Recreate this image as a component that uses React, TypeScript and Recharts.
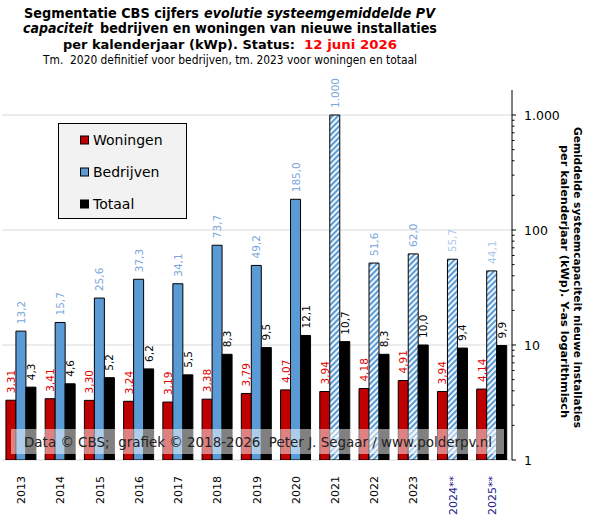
import React from "react"
import { BarChart, Bar, XAxis, YAxis, CartesianGrid, Cell, LabelList } from "recharts"

const years = ["2013", "2014", "2015", "2016", "2017", "2018", "2019", "2020", "2021", "2022", "2023", "2024**", "2025**"]
const woningen = [3.31, 3.41, 3.3, 3.24, 3.19, 3.38, 3.79, 4.07, 3.94, 4.18, 4.91, 3.94, 4.14]
const bedrijven = [13.2, 15.7, 25.6, 37.3, 34.1, 73.7, 49.2, 185.0, 1000, 51.6, 62.0, 55.7, 44.1]
const totaal = [4.3, 4.6, 5.2, 6.2, 5.5, 8.3, 9.5, 12.1, 10.7, 8.3, 10.0, 9.4, 9.9]
const majorTicks = [1, 10, 100, 1000]
const yTicks = [1, 2, 3, 4, 5, 6, 7, 8, 9, 10, 20, 30, 40, 50, 60, 70, 80, 90, 100, 200, 300, 400, 500, 600, 700, 800, 900, 1000]

const data = years.map((year, i) => ({ year, woningen: woningen[i], bedrijven: bedrijven[i], totaal: totaal[i] }))

const FONT = "Verdana, 'DejaVu Sans', sans-serif"
const RED = "#c00000"
const BLUE = "#5b9bd5"

// Dutch number format: decimal comma, dot thousands
const fmt = (v: number, d: number) => {
  if (v >= 1000) return v.toLocaleString("nl-NL")
  return v.toFixed(d).replace(".", ",")
}

function makeLabel(decimals: number, colorFor: (i: number) => string) {
  return (props: any) => {
    const { x, y, width, value, index } = props
    const cx = x + width / 2
    const top = y - 7
    return (
      <text
        x={cx}
        y={top}
        transform={`rotate(-90 ${cx} ${top})`}
        textAnchor="start"
        dominantBaseline="central"
        fontSize={10.5}
        fontFamily={FONT}
        fill={colorFor(index)}
      >
        {fmt(value, decimals)}
      </text>
    )
  }
}

function YearTick({ x, y, payload }: any) {
  const ty = y + 8
  const starred = payload.value.includes("*")
  return (
    <text
      x={x}
      y={ty}
      transform={`rotate(-90 ${x} ${ty})`}
      textAnchor="end"
      dominantBaseline="central"
      fontSize={11}
      fontFamily={FONT}
      fill={starred ? "#1c1c8c" : "#000"}
    >
      {payload.value}
    </text>
  )
}

function LogTick({ x, y, payload }: any) {
  const major = majorTicks.includes(payload.value)
  return (
    <g>
      <line x1={x} x2={x + (major ? 4 : 2.5)} y1={y} y2={y} stroke="#000" />
      {major && (
        <text x={x + 12} y={y} dominantBaseline="central" fontSize={12.5} fontFamily={FONT} fill="#000">
          {payload.value >= 1000 ? "1.000" : payload.value}
        </text>
      )}
    </g>
  )
}

const pre = { whiteSpace: "pre" as const }

export default function App() {
  return (
    <div style={{ position: "absolute", left: 0, top: 0, width: 589, height: 519, background: "#fff" }}>
      <svg width={0} height={0} style={{ position: "absolute" }}>
        <defs>
          <pattern id="hatch" width={4} height={4} patternUnits="userSpaceOnUse" patternTransform="rotate(45)">
            <rect width={4} height={4} fill="#fff" />
            <rect width={2.2} height={4} fill={BLUE} />
          </pattern>
        </defs>
      </svg>

      <BarChart
        width={589}
        height={519}
        data={data}
        margin={{ top: 90, right: 32, bottom: 9, left: 2 }}
        barCategoryGap="10%"
        barGap={0}
      >
        <CartesianGrid vertical={false} horizontalValues={majorTicks} stroke="#d9d9d9" />
        <XAxis dataKey="year" interval={0} height={50} axisLine={false} tickLine={false} tick={<YearTick />} />
        <YAxis
          orientation="right"
          scale="log"
          domain={[1, 1650]}
          allowDataOverflow
          ticks={yTicks}
          interval={0}
          width={45}
          tickSize={0}
          tickMargin={0}
          tickLine={false}
          axisLine={{ stroke: "#000" }}
          tick={<LogTick />}
        />
        <Bar dataKey="woningen" fill={RED} stroke="#000" strokeWidth={1} isAnimationActive={false}>
          <LabelList dataKey="woningen" content={makeLabel(2, () => "#e00000")} />
        </Bar>
        <Bar dataKey="bedrijven" fill={BLUE} stroke="#000" strokeWidth={1} isAnimationActive={false}>
          {data.map((_, i) => (
            <Cell key={i} fill={i >= 8 ? "url(#hatch)" : BLUE} />
          ))}
          <LabelList dataKey="bedrijven" content={makeLabel(1, (i) => (i >= 11 ? "#a9c6ee" : "#7aa6dc"))} />
        </Bar>
        <Bar dataKey="totaal" fill="#000" stroke="#000" strokeWidth={1} isAnimationActive={false}>
          <LabelList dataKey="totaal" content={makeLabel(1, () => "#000")} />
        </Bar>
      </BarChart>

      {/* overlay: titles, legend, watermark, axis title */}
      <svg width={589} height={519} style={{ position: "absolute", left: 0, top: 0, pointerEvents: "none" }} fontFamily={FONT}>
        <g fontSize={14.5} fontWeight="bold" fill="#000">
          <text x={24} y={17.5} textLength={175} lengthAdjust="spacingAndGlyphs">Segmentatie CBS cijfers</text>
          <text x={204} y={17.5} fontStyle="italic" textLength={231} lengthAdjust="spacingAndGlyphs">evolutie systeemgemiddelde PV</text>
          <text x={23} y={33} fontStyle="italic" textLength={70} lengthAdjust="spacingAndGlyphs">capaciteit</text>
          <text x={100} y={33} textLength={337} lengthAdjust="spacingAndGlyphs">bedrijven en woningen van nieuwe installaties</text>
          <text x={63} y={49} fontSize={13} textLength={232} lengthAdjust="spacingAndGlyphs">per kalenderjaar (kWp). Status:</text>
          <text x={304} y={49} fontSize={13} fill="#ff0000" textLength={93} lengthAdjust="spacingAndGlyphs">12 juni 2026</text>
        </g>
        <text x={43} y={64} fontSize={12} textLength={374} lengthAdjust="spacingAndGlyphs" style={pre}>
          {"Tm.  2020 definitief voor bedrijven, tm. 2023 voor woningen en totaal"}
        </text>

        <rect x={58.5} y={123.5} width={128} height={95} fill="#f2f2f2" stroke="#000" />
        <rect x={80.5} y={136} width={8} height={8} fill={RED} stroke="#000" />
        <text x={93} y={140} dominantBaseline="central" fontSize={14}>Woningen</text>
        <rect x={80.5} y={168} width={8} height={8} fill={BLUE} stroke="#000" />
        <text x={93} y={172} dominantBaseline="central" fontSize={14}>Bedrijven</text>
        <rect x={80.5} y={200} width={8} height={8} fill="#000" stroke="#000" />
        <text x={93} y={204} dominantBaseline="central" fontSize={14}>Totaal</text>

        <rect x={11} y={429} width={493} height={25} fill="#fff" fillOpacity={0.5} />
        <text x={24} y={447} fontSize={14} fill="#222" textLength={468} lengthAdjust="spacingAndGlyphs" style={pre}>
          {"Data © CBS;  grafiek © 2018-2026  Peter J. Segaar / www.polderpv.nl"}
        </text>

        <g fontSize={11} fontWeight="bold">
          <text x={577.5} y={277.5} transform="rotate(90 577.5 277.5)" textAnchor="middle" dominantBaseline="central" textLength={301} lengthAdjust="spacingAndGlyphs">
            Gemiddelde systeemcapaciteit nieuwe installaties
          </text>
          <text x={564.5} y={281.5} transform="rotate(90 564.5 281.5)" textAnchor="middle" dominantBaseline="central" textLength={273} lengthAdjust="spacingAndGlyphs">
            per kalenderjaar (kWp). Y-as logarithmisch
          </text>
        </g>
      </svg>
    </div>
  )
}
